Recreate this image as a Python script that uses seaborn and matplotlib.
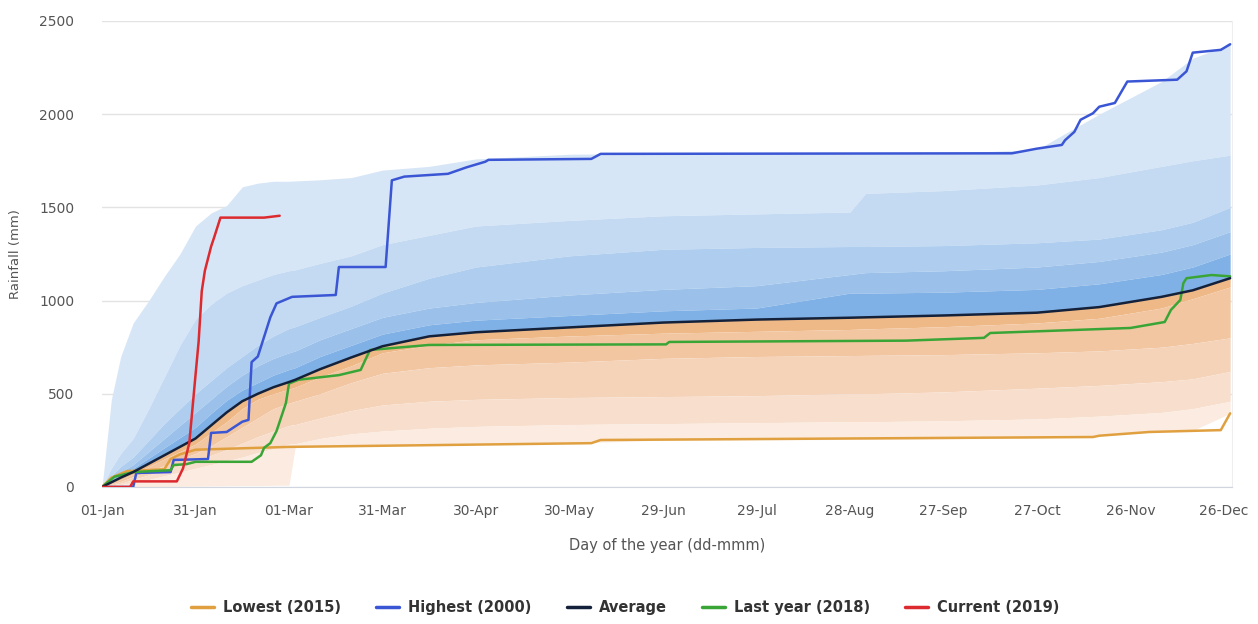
import numpy as np
import pandas as pd
import matplotlib
matplotlib.use("Agg")
import matplotlib.pyplot as plt
import seaborn as sns
from matplotlib.lines import Line2D

# ---------------- data ----------------
TICK_DAYS = [0, 30, 60, 90, 120, 150, 180, 210, 240, 270, 300, 330, 360]
TICK_LABELS = ["01-Jan", "31-Jan", "01-Mar", "31-Mar", "30-Apr", "30-May", "29-Jun",
               "29-Jul", "28-Aug", "27-Sep", "27-Oct", "26-Nov", "26-Dec"]

BAND_DAYS = [0, 3, 6, 10, 15, 20, 25, 30, 35, 40, 45, 50, 55, 60, 62, 70, 80, 90, 105,
             120, 150, 180, 210, 240, 245, 270, 300, 320, 340, 350, 362]
AVERAGE = [0, 25, 50, 80, 125, 170, 215, 260, 330, 400, 460, 500, 535, 563, 575, 632, 695,
           755, 808, 830, 856, 882, 898, 908, 910, 920, 935, 965, 1020, 1055, 1120]
P_MAX = [0, 470, 700, 880, 1000, 1130, 1250, 1400, 1470, 1510, 1610, 1630, 1640, 1640, 1642,
         1648, 1660, 1700, 1720, 1760, 1785, 1790, 1790, 1790, 1790, 1790, 1810, 2000, 2175,
         2300, 2375]
P90 = [0, 100, 180, 260, 420, 590, 760, 900, 980, 1040, 1080, 1110, 1140, 1160, 1165, 1200,
       1240, 1300, 1350, 1400, 1430, 1455, 1465, 1475, 1575, 1590, 1620, 1660, 1720, 1750, 1780]
P80 = [0, 60, 110, 160, 250, 340, 420, 500, 570, 640, 700, 760, 810, 850, 860, 910, 970, 1040,
       1120, 1180, 1240, 1275, 1285, 1290, 1290, 1295, 1310, 1330, 1380, 1420, 1500]
P70 = [0, 40, 80, 120, 190, 260, 330, 400, 470, 540, 600, 650, 690, 720, 730, 790, 850, 910,
       960, 990, 1030, 1060, 1080, 1140, 1150, 1160, 1180, 1210, 1260, 1300, 1370]
P60 = [0, 30, 65, 100, 155, 210, 265, 320, 395, 465, 520, 560, 600, 630, 640, 700, 760, 820,
       870, 895, 920, 945, 960, 1040, 1040, 1045, 1060, 1090, 1140, 1180, 1250]
P40 = [0, 20, 40, 70, 110, 150, 190, 230, 290, 350, 420, 470, 500, 525, 535, 590, 650, 720,
       760, 790, 810, 825, 835, 845, 848, 860, 880, 905, 960, 1010, 1073]
P30 = [0, 15, 30, 55, 85, 115, 150, 180, 220, 270, 320, 370, 420, 450, 460, 500, 560, 610,
       640, 655, 670, 690, 700, 705, 706, 710, 720, 730, 750, 770, 800]
P20 = [0, 10, 20, 40, 65, 90, 115, 140, 170, 200, 235, 270, 300, 330, 335, 370, 410, 440,
       460, 470, 480, 485, 490, 500, 500, 510, 530, 545, 565, 580, 620]
P10 = [0, 5, 12, 25, 40, 60, 80, 100, 120, 140, 160, 185, 205, 230, 232, 260, 285, 300, 315,
       325, 335, 340, 345, 350, 350, 355, 365, 380, 400, 420, 460]
P_MIN = [0, 0, 0, 0, 0, 2, 4, 5, 6, 7, 8, 8, 9, 10, 215, 218, 220, 225, 230, 232, 235, 252,
         253, 255, 255, 258, 262, 275, 298, 303, 395]

HIGH_DAYS = [0, 10, 11, 22, 23, 34, 35, 40, 45, 47, 48, 50, 54, 56, 61, 75, 76, 91, 93, 97,
             111, 117, 123, 124, 157, 160, 292, 300, 308, 309, 312, 314, 318, 320, 325, 329,
             345, 348, 350, 359, 362]
HIGH_VALS = [0, 0, 75, 80, 145, 150, 290, 295, 350, 360, 670, 700, 910, 985, 1020, 1030, 1180,
             1180, 1645, 1665, 1680, 1715, 1745, 1755, 1760, 1787, 1790, 1815, 1835, 1860, 1905,
             1970, 2005, 2040, 2060, 2175, 2185, 2230, 2330, 2345, 2375]

LOW_DAYS = [0, 3, 8, 20, 22, 25, 30, 60, 157, 160, 318, 320, 336, 359, 362]
LOW_VALS = [0, 50, 85, 95, 150, 175, 200, 215, 235, 252, 268, 275, 295, 305, 395]

LAST_DAYS = [0, 4, 10, 22, 23, 27, 30, 48, 51, 52, 54, 56, 58, 59, 60, 63, 76, 83, 85, 86,
             105, 181, 182, 258, 283, 285, 330, 341, 343, 346, 347, 348, 356, 362]
LAST_VALS = [0, 55, 80, 90, 118, 122, 135, 135, 170, 210, 235, 300, 400, 450, 555, 575, 600,
             628, 700, 735, 762, 765, 778, 785, 800, 826, 853, 885, 950, 1003, 1094, 1120,
             1137, 1130]

CUR_DAYS = [0, 9, 10, 24, 26, 28, 30, 31, 32, 33, 35, 36, 38, 52, 57]
CUR_VALS = [0, 0, 30, 30, 100, 235, 600, 780, 1050, 1160, 1290, 1340, 1445, 1445, 1455]

SERIES = ["Lowest (2015)", "Highest (2000)", "Average", "Last year (2018)", "Current (2019)"]
COLORS = ["#e0a040", "#3a56d4", "#14213a", "#3aa537", "#dc2a2f"]

BLUE_BANDS = ["#d7e6f6", "#c3daf2", "#aecdef", "#9bc1eb", "#80b1e6"]
ORANGE_BANDS = ["#efb987", "#f2c6a1", "#f5d3b9", "#f8dfcd", "#fbebe0"]

# ---------------- build frame ----------------
rows = []
for name, d, v in [(SERIES[0], LOW_DAYS, LOW_VALS), (SERIES[1], HIGH_DAYS, HIGH_VALS),
                   (SERIES[2], BAND_DAYS, AVERAGE), (SERIES[3], LAST_DAYS, LAST_VALS),
                   (SERIES[4], CUR_DAYS, CUR_VALS)]:
    for i, (dd, vv) in enumerate(zip(d, v)):
        rows.append({"series": name, "day": dd, "rain": vv, "order": i})
df = pd.DataFrame(rows)

sns.set_style("white")
plt.rcParams["font.family"] = ["DejaVu Sans"]

fig = plt.figure(figsize=(12.58, 6.24), dpi=100)
ax = fig.add_axes([0.0811, 0.2196, 0.898, 0.7468])

# bands
blue_bounds = [P_MAX, P90, P80, P70, P60, AVERAGE]
for i in range(5):
    ax.fill_between(BAND_DAYS, blue_bounds[i + 1], blue_bounds[i], color=BLUE_BANDS[i],
                    linewidth=0, zorder=1)
orange_bounds = [AVERAGE, P40, P30, P20, P10, P_MIN]
for i in range(5):
    ax.fill_between(BAND_DAYS, orange_bounds[i + 1], orange_bounds[i], color=ORANGE_BANDS[i],
                    linewidth=0, zorder=1)

# lines
draw_order = [SERIES[0], SERIES[1], SERIES[3], SERIES[2], SERIES[4]]
for name in draw_order:
    sub = df[df["series"] == name]
    sns.lineplot(data=sub, x="day", y="rain", sort=False, estimator=None,
                 color=COLORS[SERIES.index(name)], linewidth=1.8, ax=ax, zorder=3,
                 legend=False)

ax.set_xlim(0, 362.5)
ax.set_ylim(0, 2500)
ax.set_yticks([0, 500, 1000, 1500, 2000, 2500])
ax.set_xticks(TICK_DAYS)
ax.set_xticklabels(TICK_LABELS)
ax.yaxis.grid(True, color="#e3e3e3", linewidth=1)
ax.xaxis.grid(False)
ax.set_axisbelow(True)
for s in ["top", "left"]:
    ax.spines[s].set_visible(False)
ax.spines["bottom"].set_color("#d0d5df")
ax.spines["right"].set_color("#eeeeee")
ax.tick_params(axis="x", length=8, color="#d0d5df", labelsize=10, labelcolor="#555555", pad=4)
ax.tick_params(axis="y", length=0, labelsize=10, labelcolor="#555555", pad=20)
ax.set_xlabel("Day of the year (dd-mmm)", fontsize=10.5, color="#555555", labelpad=15)
ax.set_ylabel("Rainfall (mm)", fontsize=9.5, color="#555555", labelpad=12)

handles = [Line2D([0], [0], color=c, linewidth=2.5) for c in COLORS]
fig.legend(handles, SERIES, loc="center", bbox_to_anchor=(0.497, 0.027), ncol=5, frameon=False,
           prop={"weight": "bold", "size": 10.5}, handlelength=1.6, columnspacing=2.4,
           handletextpad=0.6, labelcolor="#333333")

fig.savefig("out.png", dpi=100, facecolor="white")
